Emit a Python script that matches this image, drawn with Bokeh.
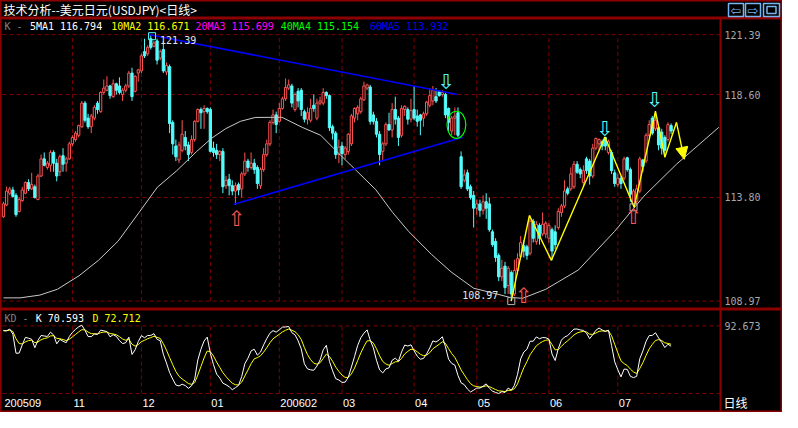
from bokeh.plotting import figure
from bokeh.models import Range1d, Label, Arrow, NormalHead, Span
from bokeh.layouts import column
from bokeh.embed import file_html
from bokeh.resources import INLINE
from bokeh.core.properties import value

# ---------------- data ----------------
opens = [112.9,113.45,114.0,114.15,113.9,113.15,113.65,114.0,114.5,114.2,114.3,113.7,114.8,115.6,115.2,115.3,115.9,115.4,115.0,115.75,
         115.4,115.6,116.3,116.5,116.7,117.1,118.2,117.5,117.1,117.5,118.2,117.8,118.7,118.8,119.0,118.5,119.1,119.0,118.6,118.8,
         119.0,119.6,118.75,119.6,119.7,120.6,120.5,121.2,120.85,121.1,120.3,120.7,119.65,119.9,117.3,116.2,115.55,116.0,116.6,116.25,
         115.9,116.5,117.35,117.9,117.8,117.95,117.9,116.1,116.0,115.8,115.95,114.35,114.65,114.35,114.1,114.4,114.2,114.9,115.5,115.2,
         115.4,115.2,114.35,115.1,115.8,116.3,117.3,117.65,117.35,117.95,118.4,118.9,119.0,117.9,118.75,118.8,117.8,117.45,117.4,118.1,
         117.5,118.2,118.2,118.7,118.55,117.1,116.8,115.8,116.2,115.8,115.95,116.3,117.5,117.7,117.8,118.35,118.9,118.95,117.65,117.35,
         116.75,115.95,116.3,117.2,116.95,117.9,117.5,116.7,117.9,117.9,117.45,117.9,117.6,117.65,117.5,117.7,118.1,118.3,118.5,118.75,
         118.6,118.6,117.95,116.9,117.5,117.75,115.7,114.6,114.95,114.3,113.9,113.3,113.5,113.2,113.6,113.5,112.2,111.75,111.1,110.1,
         110.6,109.7,110.3,109.3,110.4,111.05,111.55,111.5,111.2,112.7,111.75,112.5,112.1,112.1,111.9,112.3,112.2,112.4,113.1,113.4,
         114.2,114.2,114.3,115.35,115.1,114.5,115.6,115.5,114.8,116.1,116.3,116.4,116.6,115.9,115.9,114.95,114.4,114.7,114.7,115.65,
         115.1,113.5,113.6,114.1,115.55,115.5,116.7,117.5,117.0,117.05,116.85,116.6,116.5,117.15]
highs = [113.6,114.3,114.3,114.3,114.0,113.8,114.3,114.55,114.65,114.95,114.4,114.9,115.8,115.9,115.5,116.0,116.0,115.6,115.8,116.1,
         115.7,116.4,116.7,116.9,117.2,118.3,118.3,117.7,117.7,118.1,118.3,118.75,119.3,119.45,119.05,119.3,119.15,119.4,118.9,119.1,
         119.7,119.85,119.5,119.8,120.5,121.2,120.9,121.39,121.1,121.2,120.7,121.1,120.1,120.0,117.4,116.5,116.4,117.4,116.9,116.4,
         116.7,117.4,117.95,118.0,118.1,118.0,118.0,116.4,116.3,116.0,116.1,114.8,114.9,114.6,114.5,114.5,115.0,115.9,115.6,115.9,
         115.6,115.3,115.2,116.1,116.5,117.4,117.9,117.8,118.2,118.5,119.35,119.3,119.1,118.7,118.9,118.9,117.9,118.0,118.4,118.6,
         118.4,118.5,118.9,118.75,118.6,117.2,116.9,116.5,116.4,116.2,116.8,117.7,118.0,118.1,118.5,119.2,119.1,119.05,117.8,117.5,
         116.9,116.4,117.3,117.75,118.2,118.5,117.6,118.1,118.1,118.0,118.4,119.0,117.9,117.7,117.8,118.3,118.9,119.0,118.9,118.8,
         118.8,118.7,118.0,117.6,118.0,118.0,115.95,115.1,115.1,114.4,114.1,113.7,113.7,113.9,114.0,113.8,112.3,111.9,111.2,110.9,
         110.8,110.6,110.4,110.9,111.2,112.0,111.8,111.6,112.96,112.8,112.7,112.6,113.1,112.7,112.6,112.4,112.5,113.3,113.5,114.6,
         114.3,115.2,115.5,115.5,115.2,115.3,115.7,115.6,116.3,116.6,116.55,116.5,116.62,116.5,116.0,115.1,114.9,114.8,115.7,115.7,
         115.2,114.2,114.4,115.7,115.6,116.8,117.4,117.6,117.82,117.1,117.0,116.7,117.3,117.25]
lows = [112.85,113.4,113.9,113.8,112.9,113.1,113.6,113.95,114.1,114.15,113.75,113.7,114.75,115.25,115.1,115.0,115.0,114.55,114.8,115.0,
        115.0,115.55,116.2,116.4,116.6,117.05,117.3,117.0,116.8,117.4,117.7,117.75,118.6,118.75,118.4,118.45,118.6,118.6,118.3,118.7,
        118.9,118.3,118.7,119.2,119.6,120.3,120.4,120.7,120.8,120.0,120.2,119.6,119.5,116.8,115.8,115.5,115.4,115.9,116.0,115.5,
        115.8,116.4,117.3,117.0,117.0,117.7,115.9,115.7,115.6,115.5,114.0,114.2,113.9,113.9,113.45,113.9,113.8,114.8,115.0,115.1,
        114.9,114.2,114.2,115.0,115.7,116.2,117.2,116.8,117.3,117.9,118.3,118.8,118.0,117.8,118.0,117.6,117.3,117.2,117.3,117.8,
        117.4,118.1,118.1,118.4,116.9,116.5,115.6,115.4,115.3,115.6,115.8,116.2,117.3,117.4,117.7,118.3,118.8,117.2,117.2,116.6,
        115.3,115.5,116.2,116.9,116.6,117.2,116.2,116.6,117.6,117.2,117.3,117.4,117.1,116.7,117.1,117.6,118.0,118.1,118.2,118.5,
        118.5,117.5,116.9,116.7,116.7,116.6,114.2,114.5,114.1,113.7,112.4,113.0,112.9,113.0,112.8,112.2,111.5,110.8,109.9,109.9,
        109.3,109.3,108.97,109.2,110.2,111.0,111.0,110.9,111.1,111.7,111.6,111.6,112.0,111.9,111.7,110.87,111.4,112.3,112.9,113.3,
        113.9,114.1,114.2,114.9,114.7,114.3,114.9,114.4,114.7,116.0,116.0,116.0,116.0,115.8,114.9,114.3,114.3,114.2,114.6,115.0,
        113.6,113.34,113.5,114.0,115.0,115.4,116.6,116.7,116.9,116.0,115.8,115.68,116.4,116.75]
closes = [113.5,114.1,114.2,113.85,113.0,113.7,114.15,114.5,114.2,114.4,113.8,114.8,115.6,115.3,115.4,115.9,115.4,114.8,115.7,115.35,
          115.6,116.3,116.6,116.8,117.15,118.2,117.4,117.1,117.6,118.0,117.9,118.7,118.9,119.0,118.55,119.1,118.8,118.7,118.8,119.0,
          119.6,118.5,119.45,119.75,120.4,120.4,120.8,120.8,121.0,120.2,120.6,119.7,119.95,117.25,116.3,115.7,116.25,116.75,116.2,115.8,
          116.5,117.35,117.9,117.75,117.95,117.8,115.95,115.9,115.8,115.95,114.3,114.6,114.35,114.1,114.35,114.15,114.9,115.5,115.2,115.4,
          115.1,114.45,115.1,115.8,116.3,117.3,117.65,117.2,117.95,118.4,118.93,119.05,118.2,118.6,118.3,117.9,117.45,117.75,117.95,117.95,
          118.2,118.3,118.7,118.55,117.05,116.8,115.8,116.15,115.85,116.1,116.75,117.6,117.95,118.0,118.4,119.0,119.05,117.35,117.35,116.75,
          115.8,116.3,117.2,116.95,117.9,117.45,116.6,117.95,118.05,117.45,117.85,117.5,117.35,117.4,117.7,118.25,118.55,118.8,118.3,118.55,
          118.7,117.65,117.3,117.5,117.6,116.7,114.3,114.85,114.2,113.8,113.3,113.5,113.2,113.6,113.3,112.3,111.6,111.0,110.1,110.5,
          109.6,110.5,109.3,110.4,110.95,111.7,111.3,111.1,112.7,111.9,112.55,111.9,112.55,112.6,112.5,111.3,111.6,113.15,113.4,114.1,
          114.0,114.9,115.35,114.98,114.9,115.05,115.05,114.8,116.1,116.55,116.5,116.2,116.2,116.4,115.05,114.45,114.7,114.45,115.6,115.1,
          113.95,114.1,114.2,115.6,115.25,116.7,117.2,116.8,117.4,116.25,116.1,116.0,117.2,116.9]

month_ticks = [0, 22, 44, 66, 88, 108, 131, 151, 174, 196]
month_labels = ["200509", "11", "12", "01", "200602", "03", "04", "05", "06", "07"]
price_ticks = [108.97, 113.80, 118.60, 121.39]
kd_ticks = [92.673]

title_text = "技术分析--美元日元(USDJPY)<日线>"
period_text = "日线"
ma_names = ["5MA1", "10MA2", "20MA3", "40MA4", "60MA5"]
ma_values = ["116.794", "116.671", "115.699", "115.154", "113.932"]
kd_names = ["K", "D"]
kd_values = ["70.593", "72.712"]

cycle_x = [0.0, 5.3, 11.6, 17.2, 24.1, 30.3, 36.6, 43.3, 49.1, 55.3, 61.6, 66.3, 70.9, 75.6, 80.3, 88.8, 95.3,
           101.2, 106.3, 112.6, 118.8, 124.1, 129.3, 136.6, 142.8, 150.0, 157.4, 161.6, 165.6, 173.0, 183.4,
           194.9, 204.3, 214.7, 228.2]
cycle_y = [109.12, 109.12, 109.25, 109.52, 110.15, 110.87, 111.77, 113.11, 114.28, 115.05, 115.94, 116.55, 117.01,
           117.35, 117.53, 117.54, 117.07, 116.70, 115.95, 115.05, 114.16, 113.11, 112.21, 111.14, 110.33, 109.57,
           109.30, 109.14, 109.10, 109.52, 110.42, 112.21, 113.86, 115.35, 117.07]

upper_x = [46.6, 144.9]
upper_y = [121.39, 118.60]
lower_x = [73.5, 146.5]
lower_y = [113.48, 116.61]

zig_x = [162.0, 167.8, 174.8, 191.9, 201.2, 208.0, 211.0, 214.7]
zig_y = [108.97, 112.96, 110.87, 116.62, 113.34, 117.82, 115.68, 117.30]
zig_end_x = 217.2
zig_end_y = 115.58

up_arrow_x = [74.4, 166.0, 201.0]
up_arrow_y = [113.16, 109.57, 113.25]
down_arrow_x = [141.3, 191.9, 207.8]
down_arrow_y = [118.76, 116.57, 117.91]

pivot_x = [47.4, 162.0, 201.0]
pivot_y = [121.32, 108.97, 113.34]
peak_text = "121.39"
low_text = "108.97"

ellipse_x, ellipse_y, ellipse_w, ellipse_h = 144.5, 117.19, 6.0, 1.26

# ---------------- derived KD (9,3,3) ----------------
N = len(closes)
K, D = [], []
for i in range(N):
    lo = min(lows[max(0, i - 8):i + 1])
    hi = max(highs[max(0, i - 8):i + 1])
    rsv = (closes[i] - lo) / (hi - lo) * 100 if hi > lo else 50.0
    if i == 0:
        k = d = rsv
    else:
        k = (2 * k + rsv) / 3
        d = (2 * d + k) / 3
    K.append(k)
    D.append(d)

# ---------------- styling / geometry ----------------
BG = "#000000"
BORDER = "#8c0000"
GRID = "#800000"
UP = "#ff5454"
DOWN = "#54fcfc"
AXIS_TXT = "#a8a8a8"
MONO = "DejaVu Sans Mono"
BTN = "#78b4f0"
W = 782
HT, HA, HB = 18, 291, 103
X0, X1 = -0.31, 228.75          # bar-index span of the chart area (left of the price scale)
PXB = 718 / (X1 - X0)           # pixels per bar
xr = Range1d(X0 - 2 / PXB, X0 - 2 / PXB + W / PXB)


def base_fig(h, xrange, yrange):
    p = figure(width=W, height=h, x_range=xrange, y_range=yrange, output_backend="svg",
               toolbar_location=None, x_axis_location=None, y_axis_location=None,
               min_border_left=0, min_border_right=0, min_border_top=0, min_border_bottom=0)
    p.background_fill_color = BG
    p.border_fill_color = BG
    p.outline_line_color = BORDER
    p.outline_line_width = 2
    p.xgrid.visible = False
    p.ygrid.visible = False
    return p


def grid_and_scale(p, ticks, fmt, lo, hi):
    # dashed horizontal levels, dashed month verticals, price-scale divider and labels
    n = len(ticks)
    p.segment(x0=[X0] * n, x1=[X1] * n, y0=ticks, y1=ticks, line_color=GRID, line_dash="4 3", line_width=1)
    m = month_ticks[1:]
    p.segment(x0=m, x1=m, y0=[lo] * len(m), y1=[hi] * len(m), line_color=GRID, line_dash="4 3", line_width=1)
    p.add_layout(Span(location=X1, dimension="height", line_color=BORDER, line_width=2))
    p.text(x=[X1] * n, y=ticks, text=[fmt % t for t in ticks], text_color=AXIS_TXT, text_font=value(MONO),
           text_font_size="10px", text_align="left", text_baseline="middle", x_offset=4)


def add_label(p, text, xf, yf, color, size, font, fb):
    p.add_layout(Label(x=xf, y=fb - yf, x_units="screen", y_units="screen", text=text,
                       text_color=color, text_font_size=size, text_font=font, text_baseline="top"))


# ---------------- title bar ----------------
pT = figure(width=W, height=HT, x_range=Range1d(0, W), y_range=Range1d(HT, 0), output_backend="svg",
            toolbar_location=None, x_axis_location=None, y_axis_location=None,
            min_border_left=0, min_border_right=0, min_border_top=0, min_border_bottom=0)
pT.background_fill_color = BG
pT.border_fill_color = BG
pT.outline_line_color = BORDER
pT.outline_line_width = 2
pT.xgrid.visible = False
pT.ygrid.visible = False
pT.text(x=[3], y=[9], text=[title_text], text_color="#ffffff", text_font=value("Noto Sans CJK SC"),
        text_font_size="12px", text_baseline="middle")
pT.rect(x=[735.5, 752.5, 771], y=[9.5, 9.5, 9.5], width=[15, 15, 16], height=[13, 13, 13],
        fill_color=BG, line_color=BTN, line_width=1.5)
pT.text(x=[735.5, 752.5], y=[10, 10], text=["\u21e6", "\u21e8"], text_color=BTN,
        text_font=value("DejaVu Sans"), text_font_size="13px", text_align="center", text_baseline="middle")
pT.rect(x=[771], y=[9.5], width=[9], height=[7], fill_color=None, line_color=BTN, line_width=1.5)

# ---------------- main price panel ----------------
pA = base_fig(HA, xr, Range1d(108.578, 122.144))
grid_and_scale(pA, price_ticks, "%.2f", min(price_ticks), max(price_ticks))

up = [i for i in range(N) if closes[i] >= opens[i]]
dn = [i for i in range(N) if closes[i] < opens[i]]
pA.segment(x0=up, x1=up, y0=[lows[i] for i in up], y1=[highs[i] for i in up], line_color=UP, line_width=1)
pA.segment(x0=dn, x1=dn, y0=[lows[i] for i in dn], y1=[highs[i] for i in dn], line_color=DOWN, line_width=1)
pA.vbar(x=up, bottom=[opens[i] for i in up], top=[max(closes[i], opens[i] + 0.04) for i in up],
        width=0.72, fill_color=BG, line_color=UP, line_width=1)
pA.vbar(x=dn, bottom=[closes[i] for i in dn], top=[opens[i] for i in dn],
        width=0.72, fill_color=DOWN, line_color=DOWN, line_width=1)

pA.line(cycle_x, cycle_y, line_color="#c8c8c8", line_width=1)
pA.line(upper_x, upper_y, line_color="#0000ff", line_width=1.6)
pA.line(lower_x, lower_y, line_color="#0000ff", line_width=1.6)
pA.line(zig_x, zig_y, line_color="#ffff00", line_width=1.4)
pA.add_layout(Arrow(end=NormalHead(size=12, fill_color="#ffff00", line_color="#ffff00"),
                    x_start=zig_x[-1], y_start=zig_y[-1], x_end=zig_end_x, y_end=zig_end_y,
                    line_color="#ffff00", line_width=1.4))
pA.ellipse(x=[ellipse_x], y=[ellipse_y], width=[ellipse_w], height=[ellipse_h],
           fill_color=None, line_color="#00ff00", line_width=1.2)
pA.scatter(pivot_x, pivot_y, marker="square", size=7, fill_color=None,
           line_color=[DOWN, "#b4b4b4", "#b4b4b4"], line_width=1)
pA.text(x=up_arrow_x, y=up_arrow_y, text=["\u21e7"] * 3, text_color=UP, text_font=value("DejaVu Sans"),
        text_font_size="21px", text_align="center", text_baseline="top", y_offset=-4)
pA.text(x=down_arrow_x, y=down_arrow_y, text=["\u21e9"] * 3, text_color=DOWN, text_font=value("DejaVu Sans"),
        text_font_size="21px", text_align="center", text_baseline="bottom", y_offset=3)
pA.text(x=[pivot_x[0]], y=[pivot_y[0]], text=[peak_text], text_color="#e6e6e6", text_font=value(MONO),
        text_font_size="10px", text_align="left", text_baseline="middle", x_offset=8, y_offset=4)
pA.text(x=[pivot_x[1]], y=[pivot_y[1]], text=[low_text], text_color="#e6e6e6", text_font=value(MONO),
        text_font_size="10px", text_align="right", text_baseline="middle", x_offset=-13, y_offset=-6)

add_label(pA, "K -", 4, 2, "#808080", "10px", MONO, HA)
ma_colors = ["#ffffff", "#ffff00", "#ff00ff", "#00ff00", "#0000ff"]
ma_x = [29.4, 110.7, 195.0, 280.3, 369.5]
for name, val, col, xx in zip(ma_names, ma_values, ma_colors, ma_x):
    add_label(pA, f"{name} {val}", xx, 2, col, "10px", MONO, HA)

# ---------------- KD panel + date strip ----------------
kd_lo = min(min(K), min(D))
ppu = (84 - 16.4) / (kd_ticks[0] - kd_lo)        # pixels per KD unit
pB = base_fig(HB, xr, Range1d(kd_lo - (HB - 84) / ppu, kd_ticks[0] + 16.4 / ppu))
grid_and_scale(pB, kd_ticks, "%.3f", kd_lo, kd_ticks[0])
pB.segment(x0=[X0], x1=[X1], y0=[kd_lo], y1=[kd_lo], line_color=GRID, line_dash="4 3", line_width=1)
pB.line(list(range(N)), D, line_color="#ffff00", line_width=1)
pB.line(list(range(N)), K, line_color="#ffffff", line_width=1)
pB.text(x=month_ticks, y=[kd_lo] * len(month_ticks), text=month_labels, text_color="#ffffff",
        text_font=value("Liberation Sans"), text_font_size="11px", text_align="left",
        text_baseline="middle", x_offset=1, y_offset=9)
pB.text(x=[X1], y=[kd_lo], text=[period_text], text_color="#ffffff", text_font=value("Noto Sans CJK SC"),
        text_font_size="12px", text_align="left", text_baseline="middle", x_offset=3, y_offset=9)

add_label(pB, "KD -", 4, 3, "#808080", "10px", MONO, HB)
add_label(pB, f"{kd_names[0]} {kd_values[0]}", 35.3, 3, "#ffffff", "10px", MONO, HB)
add_label(pB, f"{kd_names[1]} {kd_values[1]}", 92.0, 3, "#ffff00", "10px", MONO, HB)

layout = column(pT, pA, pB)
open("out.html", "w").write(file_html(layout, INLINE))
